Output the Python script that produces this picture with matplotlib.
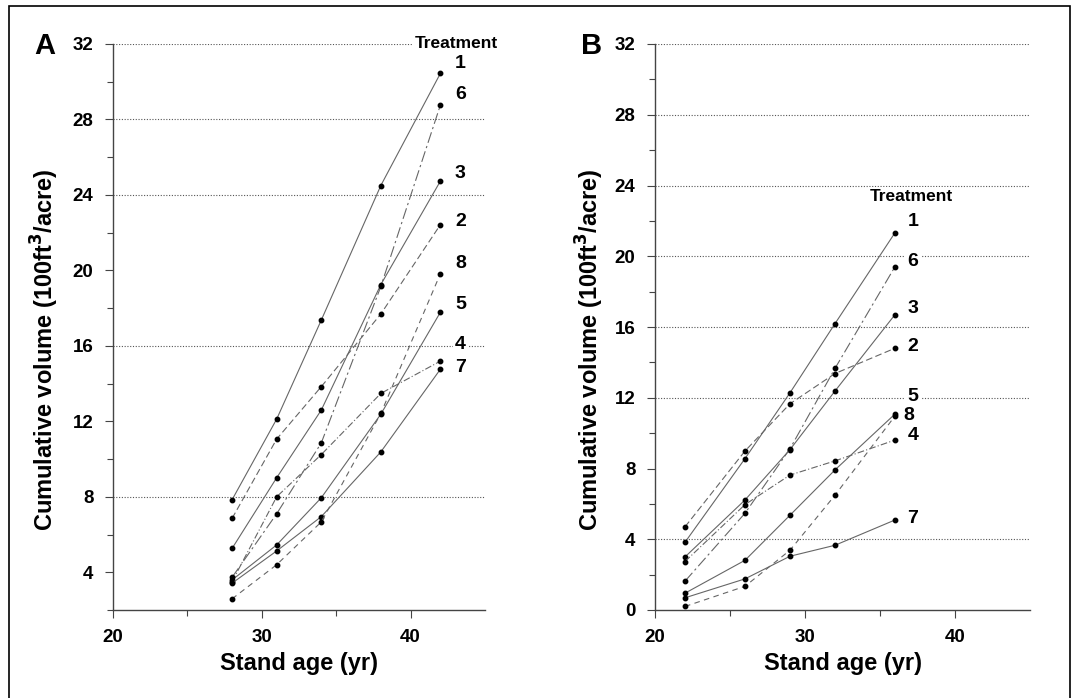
import matplotlib
matplotlib.use("Agg")
import matplotlib.pyplot as plt
from matplotlib.patches import Rectangle

plt.rcParams['font.family'] = ['Liberation Sans', 'DejaVu Sans']
plt.rcParams['font.weight'] = 'bold'

treatments = ["1", "2", "3", "4", "5", "6", "7", "8"]

# Panel A
ages_a = [28, 31, 34, 38, 42]
vol_a = {
    "1": [7.84, 12.12, 17.37, 24.50, 30.44],
    "2": [6.85, 11.06, 13.84, 17.69, 22.42],
    "3": [5.26, 9.01, 12.60, 19.25, 24.73],
    "4": [3.50, 8.00, 10.24, 13.48, 15.19],
    "5": [3.59, 5.45, 7.95, 12.38, 17.78],
    "6": [3.73, 7.10, 10.86, 19.15, 28.76],
    "7": [3.42, 5.13, 6.95, 10.38, 14.76],
    "8": [2.59, 4.40, 6.67, 12.42, 19.82],
}
label_pos_a = {
    "1": 30.95, "6": 29.30, "3": 25.15, "2": 22.60,
    "8": 20.37, "5": 18.19, "4": 16.06, "7": 14.84,
}

# Panel B
ages_b = [22, 26, 29, 32, 36]
vol_b = {
    "1": [3.83, 8.56, 12.28, 16.19, 21.33],
    "2": [4.70, 8.99, 11.66, 13.37, 14.80],
    "3": [3.00, 6.22, 9.07, 12.38, 16.70],
    "4": [2.74, 5.96, 7.63, 8.43, 9.61],
    "5": [0.95, 2.81, 5.36, 7.92, 11.08],
    "6": [1.63, 5.47, 9.12, 13.66, 19.41],
    "7": [0.69, 1.76, 3.04, 3.66, 5.09],
    "8": [0.20, 1.34, 3.38, 6.49, 10.97],
}
label_pos_b = {
    "1": 21.95, "6": 19.70, "3": 17.05, "2": 14.90,
    "5": 12.06, "8": 11.02, "4": 9.87, "7": 5.18,
}

styles = {
    "1": (0, ()),
    "2": (0, (6, 3)),
    "3": (0, ()),
    "4": (0, (6, 2, 1, 2)),
    "5": (0, ()),
    "6": (0, (10, 3, 2, 3)),
    "7": (0, ()),
    "8": (0, (5, 4)),
}

fig = plt.figure(figsize=(10.78, 6.98), dpi=100)
fig.patches.append(Rectangle((9 / 1078, -0.01), (1070 - 9) / 1078, 1 - 6 / 698 + 0.01,
                             transform=fig.transFigure, fill=False,
                             edgecolor='black', linewidth=1.2))

W, H = 1078, 698
ax_a = fig.add_axes([113 / W, (H - 610) / H, 372 / W, 566 / H])
ax_b = fig.add_axes([655 / W, (H - 610) / H, 375 / W, 566 / H])


def style_axes(ax, ylo, grid_vals, yticks, ylab_x):
    ax.set_xlim(20, 45)
    ax.set_ylim(ylo, 32)
    for s in ['top', 'right']:
        ax.spines[s].set_visible(False)
    for s in ['left', 'bottom']:
        ax.spines[s].set_color('#444444')
        ax.spines[s].set_linewidth(1.0)
    ax.set_xticks([20, 30, 40])
    ax.set_xticks([25, 35], minor=True)
    ax.set_yticks(yticks)
    ax.set_yticks([v + 2 for v in range(0, 32, 4) if v + 2 >= ylo], minor=True)
    ax.tick_params(axis='both', which='major', length=6, width=0.8, color='#444444',
                   labelsize=13.5, pad=8)
    ax.tick_params(axis='both', which='minor', length=4, width=0.8, color='#444444')
    for lab in ax.get_xticklabels() + ax.get_yticklabels():
        lab.set_fontweight('bold')
    for g in grid_vals:
        ax.axhline(g, color='#555555', linestyle=(0, (1, 1.5)), linewidth=0.8, zorder=0)
    ax.set_xlabel('Stand age (yr)', fontsize=17, fontweight='bold', labelpad=4)
    ax.set_ylabel('Cumulative volume (100ft$^{\\mathbf{3}}$/acre)', fontsize=17,
                  fontweight='bold')
    ax.yaxis.set_label_coords(ylab_x, 0.46)
    ax.yaxis.label.set_va('center')


style_axes(ax_a, 2, [8, 16, 24, 28, 32], [4, 8, 12, 16, 20, 24, 28, 32], -0.183)
style_axes(ax_b, 0, [4, 12, 16, 20, 24, 28, 32], [0, 4, 8, 12, 16, 20, 24, 28, 32], -0.173)

for t in treatments:
    ax_a.plot(ages_a, vol_a[t], color='#666666', linewidth=0.8, linestyle=styles[t],
              marker='o', markersize=3.2, markerfacecolor='black', markeredgecolor='black',
              zorder=3)
    ax_b.plot(ages_b, vol_b[t], color='#666666', linewidth=0.8, linestyle=styles[t],
              marker='o', markersize=3.2, markerfacecolor='black', markeredgecolor='black',
              zorder=3)

bbox = dict(facecolor='white', edgecolor='none', pad=1.5)
for t in treatments:
    ax_a.text(43.35, label_pos_a[t], t, fontsize=14, fontweight='bold', ha='center',
              va='center', bbox=bbox, zorder=4, clip_on=False)
    xb = 36.95 if t == "8" else 37.2
    ax_b.text(xb, label_pos_b[t], t, fontsize=14, fontweight='bold', ha='center',
              va='center', bbox=bbox, zorder=4, clip_on=False)

ax_a.text(43.1, 32, 'Treatment', fontsize=12.5, fontweight='bold', ha='center',
          va='center', bbox=bbox, zorder=4, clip_on=False)
ax_b.text(37.1, 23.4, 'Treatment', fontsize=12.5, fontweight='bold', ha='center',
          va='center', bbox=bbox, zorder=4, clip_on=False)

fig.text(45 / W, 1 - 46 / H, 'A', fontsize=21, fontweight='bold', ha='center', va='center')
fig.text(592 / W, 1 - 46 / H, 'B', fontsize=21, fontweight='bold', ha='center', va='center')

fig.savefig('out.png', dpi=100)
